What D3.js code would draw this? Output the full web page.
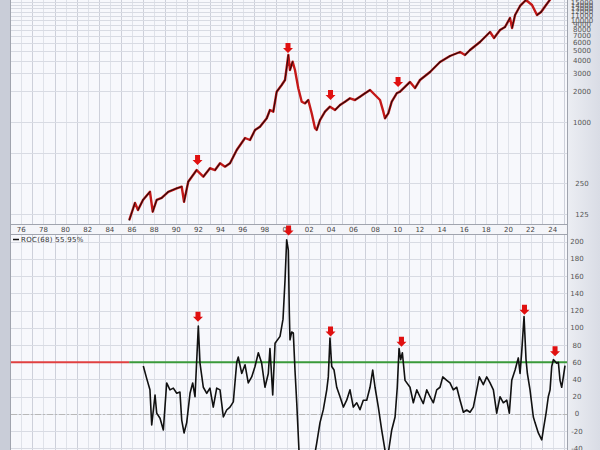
<!DOCTYPE html>
<html><head><meta charset="utf-8">
<script src="https://cdn.jsdelivr.net/npm/d3@7"></script>
<style>body{margin:0;background:#fff}svg{display:block}</style>
</head><body>
<svg id="c" width="600" height="450"></svg>
<script>
// ---- data ----
const priceYears = [1985.75,1986.27,1986.54,1986.99,1987.62,1987.87,1988.23,1988.68,1989.28,1990.04,1990.49,1990.70,1991.08,1991.84,1992.14,1992.44,1993.04,1993.50,1993.95,1994.40,1994.85,1995.15,1995.46,1996.21,1996.66,1997.11,1997.56,1998.17,1998.46,1998.76,1999.07,1999.52,1999.82,2000.12,2000.27,2000.51,2000.72,2001.02,2001.33,2001.63,2001.92,2002.23,2002.53,2002.68,2002.98,2003.43,2003.88,2004.34,2004.79,2005.24,2005.69,2006.14,2006.59,2007.05,2007.50,2007.95,2008.40,2008.70,2008.85,2009.15,2009.46,2009.91,2010.21,2011.11,2011.56,2012.01,2012.92,2013.82,2014.72,2015.63,2016.08,2016.53,2017.43,2018.34,2018.70,2019.24,2019.69,2020.14,2020.33,2020.60,2021.05,2021.59,2022.13,2022.58,2022.95,2023.40,2023.94,2024.66,2025.11];
const priceValues = [109,161,137,172,207,132,172,180,207,224,232,165,260,338,314,291,352,338,394,365,394,457,531,697,666,835,900,1087,1311,1262,1982,2306,2581,4538,3235,3901,3235,2140,1581,1525,1643,1217,868,835,1046,1262,1413,1311,1468,1581,1707,1643,1771,1912,2059,1839,1643,1262,1087,1217,1581,1912,1982,2468,2154,2581,3093,3875,4437,4857,4538,5081,6088,7631,6663,7985,8540,10467,8351,11196,13730,15720,14040,11196,11980,14040,16820,19700,20600];

const rocX = [143.3,146.7,150,151.7,155,156.7,160,163.3,166.7,170,173.3,176.7,180,181.7,184,186.7,190,192.7,195,198.3,200,203.3,206.7,210,213.3,216.7,220,223.3,226.7,230,233.3,236.7,238.3,241.7,245,248.3,251.7,255,258.3,261.7,265,268.3,270,272.7,275,280,283,285,286.7,288.3,289.3,290,291.7,293.3,295,296.7,299,303,308,312,316.7,320,323.3,326.7,328.3,330,331.7,334,336.7,340,343.3,346.7,350,353.3,356.7,360,363.3,366.7,370,372.7,375,378.3,381.7,385,388.3,391.7,395,397.3,399,400.7,402.3,405,410,413.3,416.7,420,423.3,426.7,430,433.3,436.7,440,442.7,446.7,450,453.3,456.7,460,463.3,466.7,470,473.3,476.7,479.3,483.3,486.7,490,493.3,496.7,500,503.3,506.7,509.3,511.7,515,518.3,520,521.7,524,526,527.3,530,533.3,535,538.3,541.7,543.3,546,548.3,550,551.7,553.3,556.7,558.3,560,561.7,563.3,565];
const rocYears = rocX.map(x => +(2000 + (x - 287) / 11.07).toFixed(2));
const rocValues = [55.6,41,28,-12.8,22,1,-5,-18.5,36,28,30,24,25.5,-7,-22,-10,24,36,20,102,59,31,24,30,8,30,28,-3.5,4.6,8,14,60,66,47,57,36,43,55,71,59,31,47,76,22,82,90,110,155,202,190,117,86,95,94,51,12.8,-42,-60,-55,-65,-34,-10,5,28,43,88,55,51,31,20,8,16,28,8,13,5,16,16,31,51,31,8,-18.5,-42,-45,-18.5,-3.5,31,76,63,71,39,31,13,28,20,12,28,20,13,28,31,43,39,36,28,31,16,2,4.6,2,8,28,43,34,43,36,28,1,20,13,16,1,39,51,65,47,72,113,63,47,28,-3.5,-10,-22,-30,-18.5,1,20,28,55,63,59,60,39,31,43,56];

const yearLabels = ["76","78","80","82","84","86","88","90","92","94","96","98","00","02","04","06","08","10","12","14","16","18","20","22","24"];
const labelYears = d3.range(1976, 2025, 2);
const priceTicks = [125,250,1000,2000,3000,4000,5000,6000,7000,8000,9000,10000,11000,12000,13000,14000,15000];
const priceGrid = [125,250,500,1000,2000,3000,4000,5000,6000,7000,8000,9000,10000,11000,12000,13000,14000,15000];
const rocTicks = [-40,-20,0,20,40,60,80,100,120,140,160,180,200];
const signalLevel = 60;
const dataStartYear = 1985.75;
const topArrows = [[1991.92,379],[2000.09,4750],[2003.93,1643],[2010.03,2203]];
const rocArrows = [[1991.96,107],[2000.14,207],[2003.93,90],[2010.34,78],[2021.45,115],[2024.21,67]];
const rocLabel = "ROC(68) 55.95%";

// ---- layout ----
const svg = d3.select("#c");
const L = 11, R = 567;
const FONT = "DejaVu Sans, Verdana, sans-serif";
const x = d3.scaleLinear().domain([1975.07, 2025.29]).range([L, R]);
const yP = d3.scaleLog().domain([100, 20000]).range([224, -10.7]);
const yR = d3.scaleLinear().domain([-50, 210]).range([457.1, 232.9]);

svg.append("rect").attr("width",600).attr("height",450).attr("fill","#f4f5f9");
svg.append("rect").attr("x",0).attr("y",0).attr("width",10).attr("height",450).attr("fill","#c9cdd8");
const defs = svg.append("defs");
const grad = defs.append("linearGradient").attr("id","g1").attr("x1",0).attr("x2",1);
grad.append("stop").attr("offset",0).attr("stop-color","#eceef3");
grad.append("stop").attr("offset",1).attr("stop-color","#d9dce5");
svg.append("rect").attr("x",R).attr("y",0).attr("width",600-R).attr("height",450).attr("fill","url(#g1)");

defs.append("clipPath").attr("id","cp1").append("rect").attr("x",L).attr("y",-20).attr("width",R-L).attr("height",244);
defs.append("clipPath").attr("id","cp2").append("rect").attr("x",L).attr("y",234).attr("width",R-L).attr("height",230);

function panel(y0, y1) {
  const g = svg.append("g");
  g.append("rect").attr("x",L).attr("y",y0).attr("width",R-L).attr("height",y1-y0).attr("fill","#f7f8fc");
  const yrs = d3.range(1976, 2026);
  g.selectAll("line.v").data(yrs).join("line")
    .attr("x1",d=>Math.round(x(d))+0.5).attr("x2",d=>Math.round(x(d))+0.5).attr("y1",y0).attr("y2",y1)
    .attr("stroke", d => d % 2 ? "#cdd0da" : "#dfe2e9").attr("stroke-width",1);
  return g;
}
const gTop = panel(-20, 224);
gTop.selectAll("line.h").data(priceGrid).join("line")
  .attr("x1",L).attr("x2",R).attr("y1",d=>Math.round(yP(d))+0.5).attr("y2",d=>Math.round(yP(d))+0.5)
  .attr("stroke","#d8dbe3");
const gBot = panel(234, 460);
gBot.selectAll("line.h").data(rocTicks).join("line")
  .attr("x1",L).attr("x2",R).attr("y1",d=>Math.round(yR(d))+0.5).attr("y2",d=>Math.round(yR(d))+0.5)
  .attr("stroke","#d8dbe3");

// borders
[224,234].forEach(yy=>{
  svg.append("line").attr("x1",L).attr("x2",R).attr("y1",yy+0.5).attr("y2",yy+0.5).attr("stroke","#a0a4ae");
});
svg.append("line").attr("x1",L-0.5).attr("x2",L-0.5).attr("y1",0).attr("y2",450).attr("stroke","#a0a4ae");
svg.append("line").attr("x1",R+0.5).attr("x2",R+0.5).attr("y1",0).attr("y2",450).attr("stroke","#a0a4ae");

// x labels
svg.append("g").selectAll("text").data(labelYears).join("text")
  .attr("x",d=>x(d)).attr("y",232).attr("text-anchor","middle")
  .attr("font-family",FONT).attr("font-size",7).attr("fill","#444")
  .text((d,i)=>yearLabels[i]);

// price y labels
svg.append("g").selectAll("text").data(priceTicks).join("text")
  .attr("x",582).attr("y",d=>yP(d)+2.5).attr("text-anchor","middle").attr("font-family",FONT)
  .attr("font-size",7).attr("fill","#555").text(d=>d);
// roc labels
svg.append("g").selectAll("text").data(rocTicks).join("text")
  .attr("x",577).attr("y",d=>yR(d)+2.5).attr("text-anchor","middle").attr("font-family",FONT)
  .attr("font-size",7).attr("fill","#555").text(d=>d);

// price line: red base, dark overlay on rising segments
const pts = priceYears.map((t,i)=>({p:[x(t), yP(priceValues[i])], v:priceValues[i]}));
const gl = gTop.append("g").attr("clip-path","url(#cp1)");
gl.append("path").datum(pts).attr("d", d3.line().x(d=>d.p[0]).y(d=>d.p[1]))
  .attr("fill","none").attr("stroke","#c41818").attr("stroke-width",2.4).attr("stroke-linejoin","round");
gl.selectAll("line").data(d3.pairs(pts).filter(d=>d[1].v >= d[0].v)).join("line")
  .attr("x1",d=>d[0].p[0]).attr("y1",d=>d[0].p[1]).attr("x2",d=>d[1].p[0]).attr("y2",d=>d[1].p[1])
  .attr("stroke","#2a0c0c").attr("stroke-width",1.1).attr("stroke-linecap","round");

// signal lines
gBot.append("line").attr("x1",L).attr("x2",x(dataStartYear)).attr("y1",yR(signalLevel)).attr("y2",yR(signalLevel))
  .attr("stroke","#e04040").attr("stroke-width",2);
gBot.append("line").attr("x1",x(dataStartYear)).attr("x2",R).attr("y1",yR(signalLevel)).attr("y2",yR(signalLevel))
  .attr("stroke","#3a9a3a").attr("stroke-width",2);
gBot.append("line").attr("x1",L).attr("x2",R).attr("y1",Math.round(yR(0))+0.5).attr("y2",Math.round(yR(0))+0.5)
  .attr("stroke","#b8b8b8").attr("stroke-width",1.2).attr("stroke-dasharray","6,2,2,2");

// roc line
const line = d3.line().x((d,i)=>x(rocYears[i])).y(d=>yR(d));
gBot.append("path").attr("clip-path","url(#cp2)").datum(rocValues).attr("d",line)
  .attr("fill","none").attr("stroke","#111").attr("stroke-width",1.6).attr("stroke-linejoin","round");

// legend
svg.append("line").attr("x1",13).attr("x2",19).attr("y1",239.5).attr("y2",239.5).attr("stroke","#111").attr("stroke-width",1.5);
svg.append("text").attr("x",21).attr("y",242).attr("font-family",FONT).attr("font-size",7)
  .attr("letter-spacing",0.3).attr("fill","#333").text(rocLabel);

// arrows
function arrow(g, px, py) {
  const p = `M${px},${py} L${px-5},${py-5} L${px-2.5},${py-5} L${px-2.5},${py-10} L${px+2.5},${py-10} L${px+2.5},${py-5} L${px+5},${py-5} Z`;
  g.append("path").attr("d",p).attr("fill","#e01010");
}
topArrows.forEach(([t,v])=>arrow(svg, x(t), yP(v)));
rocArrows.forEach(([t,v])=>arrow(svg, x(t), yR(v)));
</script>
</body></html>
